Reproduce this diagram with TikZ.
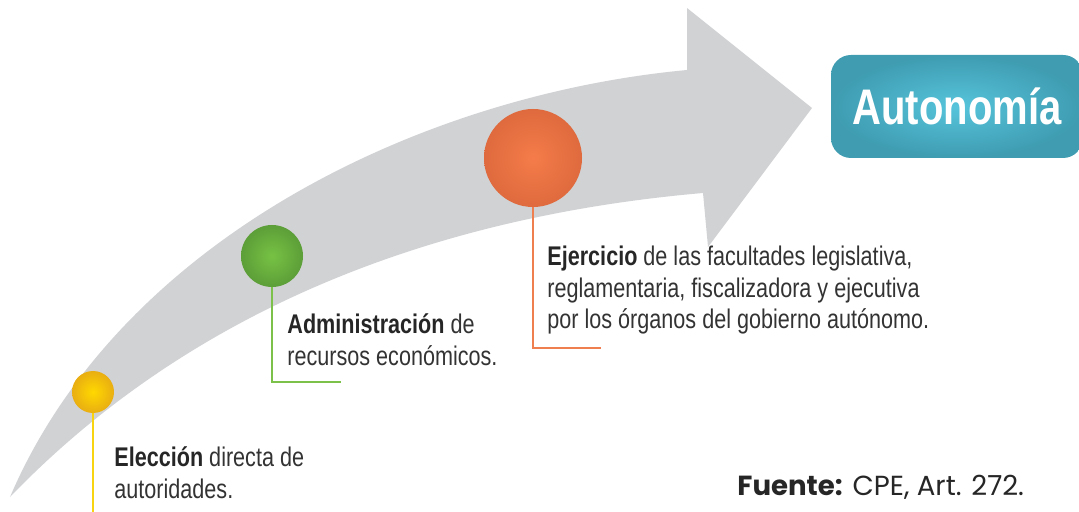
\documentclass[tikz,border=0pt]{standalone}
\usepackage{fontspec}
\setmainfont{Liberation Sans}[FakeStretch=0.80]
\newfontfamily\fuentefont{Poppins}
\usetikzlibrary{positioning}
\definecolor{arrowgray}{HTML}{D1D2D4}
\definecolor{txtgray}{HTML}{333333}
\definecolor{yellowA}{HTML}{FFD800}
\definecolor{yellowB}{HTML}{E9AE12}
\definecolor{greenA}{HTML}{77C244}
\definecolor{greenB}{HTML}{5C9E38}
\definecolor{orangeA}{HTML}{F57C4A}
\definecolor{orangeB}{HTML}{DF6A3D}
\definecolor{tealA}{HTML}{56C4DB}
\definecolor{tealB}{HTML}{3F9CB1}
\definecolor{yline}{HTML}{F8D410}
\definecolor{gline}{HTML}{7CC24A}
\definecolor{oline}{HTML}{F07F4F}
\tikzset{
  hito/.style={circle, inner sep=0pt, shading=radial},
  leader/.style={line width=1.25pt},
  txt/.style={anchor=base west, align=left, inner sep=0pt, text=txtgray,
    font=\fontsize{13.5}{16}\selectfont},
}
\begin{document}
\begin{tikzpicture}[x=0.5pt, y=-0.5pt]
\useasboundingbox (0,0) rectangle (1079,512);

% curved arrow
\fill[arrowgray] (10,497) .. controls (120,240) and (420,95) .. (687,70)
  -- (687,8) -- (812,108) -- (708,247) -- (703,193)
  .. controls (450,215) and (200,300) .. (10,497) -- cycle;

% goal box
\node[rounded corners=10pt, shading=radial, inner color=tealA, outer color=tealB,
  minimum width=126pt, minimum height=51.5pt, text=white,
  font=\fontsize{25}{28}\selectfont\bfseries] (autonomia) at (957,106.5) {Autonomía};

% milestones
\node[hito, inner color=yellowA, outer color=yellowB, minimum size=21pt] (eleccion) at (93,392) {};
\node[hito, inner color=greenA, outer color=greenB, minimum size=31pt] (admin) at (272,256) {};
\node[hito, inner color=orangeA, outer color=orangeB, minimum size=49pt] (ejercicio) at (533,158) {};

\coordinate (e1) at (93,512);
\coordinate (a1) at (273,382);
\coordinate (a2) at (341,382);
\coordinate (o1) at (533,348);
\coordinate (o2) at (601,348);

\path[draw=yline,leader] (eleccion.south) -- (e1);
\path[draw=gline,leader] (admin.south) -- (admin.south |- a1) -- (a2);
\path[draw=oline,leader] (ejercicio.south) -- (ejercicio.south |- o1) -- (o2);

% texts (base = last line)
\node[txt] (t1) at (114,498) {{\bfseries\color{black!85}Elección} directa de\\autoridades.};
\node[txt] (t2) at (287,365) {{\bfseries\color{black!85}Administración} de\\recursos económicos.};
\node[txt] (t3) at (547,329) {{\bfseries\color{black!85}Ejercicio} de las facultades legislativa,\\reglamentaria, fiscalizadora y ejecutiva\\por los órganos del gobierno autónomo.};
\node[anchor=base west, inner sep=0pt, text=black!85, font=\fuentefont\fontsize{13.8}{16}\selectfont]
  (fuente) at (737,495) {\textbf{Fuente:} CPE, Art. 272.};
\end{tikzpicture}
\end{document}
